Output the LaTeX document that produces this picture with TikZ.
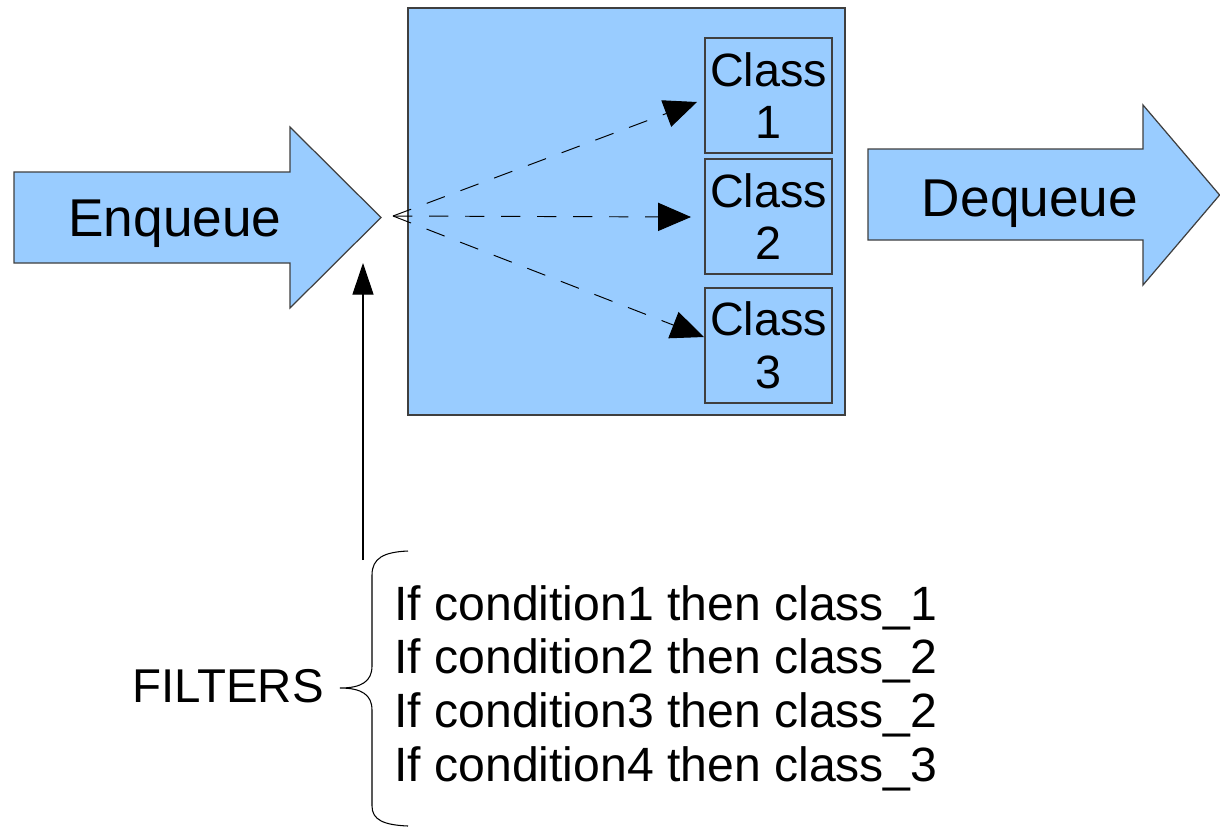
\documentclass[tikz,border=0pt]{standalone}
\usepackage{fontspec}
\setmainfont{Liberation Sans}
\usetikzlibrary{arrows.meta, positioning}
\definecolor{qblue}{HTML}{99CCFF}
\definecolor{qedge}{HTML}{3F3F3F}

\begin{document}
\begin{tikzpicture}[
  x=0.02cm, y=-0.02cm,
  bigarrow/.style={draw=qedge, fill=qblue, line width=0.7pt, line join=miter},
  queuebox/.style={rectangle, draw=qedge, fill=qblue, line width=0.9pt, inner sep=0pt,
              minimum width=8.74cm, minimum height=8.14cm},
  classbox/.style={rectangle, draw=qedge, fill=qblue, line width=0.6pt, align=center,
              inner sep=0pt, minimum width=2.54cm, minimum height=2.3cm,
              font=\fontsize{26.6}{30}\selectfont},
  flow/.style={draw, dash pattern=on 11pt off 9.5pt, line width=0.55pt,
              -{Triangle[length=18.7pt, width=16pt]}},
  pick/.style={draw, line width=0.6pt, -{Triangle[length=18pt, width=12pt]}},
  brace/.style={draw, line width=0.6pt},
  lbl/.style={inner sep=0pt, font=\fontsize{30.3}{35}\selectfont},
  rules/.style={inner sep=0pt, align=left, font=\fontsize{27.4}{30.6}\selectfont}
]
\useasboundingbox (0,0) rectangle (1220,826);

% =======================================================
%                     MAIN COMPONENTS
% =======================================================
\node[queuebox] (queue) at (626.5,211.5) {};

\node[classbox] (class1) at (768.5,95.5) {Class\\1};
\node[classbox] (class2) at (768.5,216.5) {Class\\2};
\node[classbox] (class3) at (768.5,345.5) {Class\\3};

% Enqueue (left arrow)
\draw[bigarrow] (14,172) -- (290,172) -- (290,127) -- (381,217.5)
  -- (290,308) -- (290,263) -- (14,263) -- cycle;
\node[lbl, anchor=base] (enqueue) at (175,236) {Enqueue};

% Dequeue (right arrow)
\draw[bigarrow] (868,149) -- (1143,149) -- (1143,105) -- (1219.6,195)
  -- (1143,285) -- (1143,240) -- (868,240) -- cycle;
\node[lbl, anchor=base] (dequeue) at (1030,216) {Dequeue};

% Filters
\node[lbl, anchor=base east, font=\fontsize{27}{30}\selectfont] (filters) at (324,702) {FILTERS};
\node[rules, anchor=west] (rulelist) at (394,688) {If condition1 then class\_1\\
If condition2 then class\_2\\
If condition3 then class\_2\\
If condition4 then class\_3};

% =======================================================
%                     CONNECTIONS
% =======================================================
\coordinate (fork) at (393,216);
\coordinate (in1) at (697,102);
\coordinate (in2) at (691,217);
\coordinate (in3) at (704,337);

% classifier fan-out
\draw[flow] (fork) -- (in1);
\draw[flow] (fork) -- (in2);
\draw[flow] (fork) -- (in3);

% filters -> enqueue
\coordinate (filtout) at (363,560);
\coordinate (filtin) at (363,263);
\draw[pick] (filtout) -- (filtin);

% brace round the rule list
\coordinate (bracetip) at (340,688);
\draw[brace] (408,551) .. controls (384,552) and (372,558) .. (372,575)
  -- (372,666) .. controls (372,681) and (362,688) .. (bracetip)
  .. controls (362,688) and (372,695) .. (372,710)
  -- (372,806) .. controls (372,820) and (384,825) .. (408,826);

\end{tikzpicture}
\end{document}
